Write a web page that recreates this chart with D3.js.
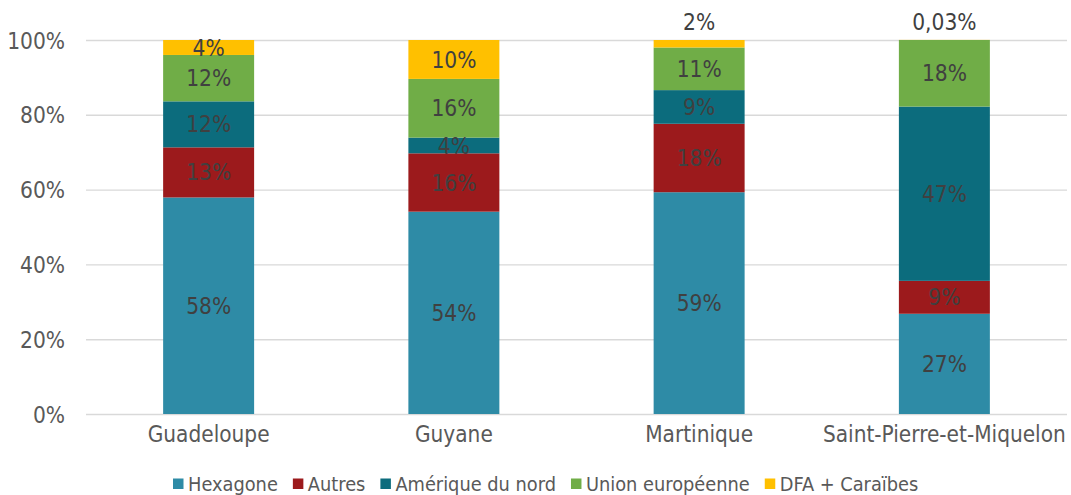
<!DOCTYPE html>
<html>
<head>
<meta charset="utf-8">
<script src="https://cdn.jsdelivr.net/npm/d3@7/dist/d3.min.js"></script>
<style>
  html, body { margin: 0; padding: 0; background: #fff; }
  svg text { font-family: "DejaVu Sans Condensed", "DejaVu Sans", sans-serif; font-stretch: condensed; }
</style>
</head>
<body>
<svg id="chart" width="1071" height="495"></svg>
<script>
// Origin of passengers by territory (share of total, %)
const categories = ["Guadeloupe", "Guyane", "Martinique", "Saint-Pierre-et-Miquelon"];
const seriesNames = ["Hexagone", "Autres", "Amérique du nord", "Union européenne", "DFA + Caraïbes"];
const hexagone        = [57.9, 54.1, 59.3, 26.8];
const autres          = [13.4, 15.6, 18.3, 8.8];
const ameriqueNord    = [12.3, 4.2, 9.0, 46.6];
const unionEuropeenne = [12.4, 15.7, 11.4, 17.8];
const dfaCaraibes     = [4.0, 10.4, 2.0, 0.03];
const yTicks = [0, 20, 40, 60, 80, 100];
const colors = ["#2E8BA6", "#9C1A1C", "#0C6C7D", "#70AD47", "#FFC000"];

const seriesValues = [hexagone, autres, ameriqueNord, unionEuropeenne, dfaCaraibes];
const rows = categories.map((c, i) => {
  const r = { category: c };
  seriesNames.forEach((s, k) => { r[s] = seriesValues[k][i]; });
  return r;
});

const svg = d3.select("#chart");
const plotLeft = 86, plotRight = 1067, plotTop = 40, plotBottom = 414;

const x = d3.scaleBand().domain(categories).range([plotLeft, plotRight])
  .paddingInner(0.629).paddingOuter(0.3145);
const y = d3.scaleLinear().domain([0, 100]).range([plotBottom, plotTop]);

// Gridlines and y tick labels
const yAxis = d3.axisLeft(y).tickValues(yTicks).tickSize(-(plotRight - plotLeft))
  .tickFormat(d => d + "%").tickPadding(21);
const gy = svg.append("g").attr("transform", `translate(${plotLeft},0)`).call(yAxis);
gy.select(".domain").remove();
gy.selectAll(".tick line").attr("stroke", "#d9d9d9").attr("stroke-width", 1.4);
gy.selectAll(".tick text").attr("fill", "#595959").style("font-size", "22.5px").attr("dy", "0.36em");

// Stacked bars
const stack = d3.stack().keys(seriesNames);
const layers = stack(rows);

const g = svg.append("g");
layers.forEach((layer, k) => {
  g.selectAll(null).data(layer).enter().append("rect")
    .attr("x", d => x(d.data.category))
    .attr("width", x.bandwidth())
    .attr("y", d => y(d[1]))
    .attr("height", d => y(d[0]) - y(d[1]))
    .attr("fill", colors[k]);
});

// Value labels (thin top segments get their label above the bar)
const fmt = v => (v < 1 ? d3.format(".2f")(v).replace(".", ",") : Math.round(v)) + "%";
layers.forEach((layer, k) => {
  g.selectAll(null).data(layer).enter().append("text")
    .attr("x", d => x(d.data.category) + x.bandwidth() / 2)
    .attr("y", d => {
      const v = d[1] - d[0];
      return v < 3 ? y(100) - 18 : (y(d[0]) + y(d[1])) / 2;
    })
    .attr("dy", "0.36em")
    .attr("text-anchor", "middle")
    .attr("fill", "#404040")
    .style("font-size", "22.5px")
    .text(d => fmt(d[1] - d[0]));
});

// Category axis labels
const gx = svg.append("g").attr("transform", `translate(0,${plotBottom})`)
  .call(d3.axisBottom(x).tickSize(0).tickPadding(20));
gx.select(".domain").remove();
gx.selectAll(".tick text").attr("fill", "#595959").style("font-size", "22.4px").attr("dy", "0.36em");

// Legend
const legend = svg.append("g").attr("transform", "translate(0,484)");
let lx = 173;
seriesNames.forEach((s, k) => {
  legend.append("rect").attr("x", lx).attr("y", -5.5).attr("width", 10.5).attr("height", 10.5).attr("fill", colors[k]);
  const t = legend.append("text").attr("x", lx + 15).attr("y", 0).attr("dy", "0.36em")
    .attr("fill", "#595959").style("font-size", "19.8px").text(s);
  lx += 15 + t.node().getComputedTextLength() + 15;
});
</script>
</body>
</html>
